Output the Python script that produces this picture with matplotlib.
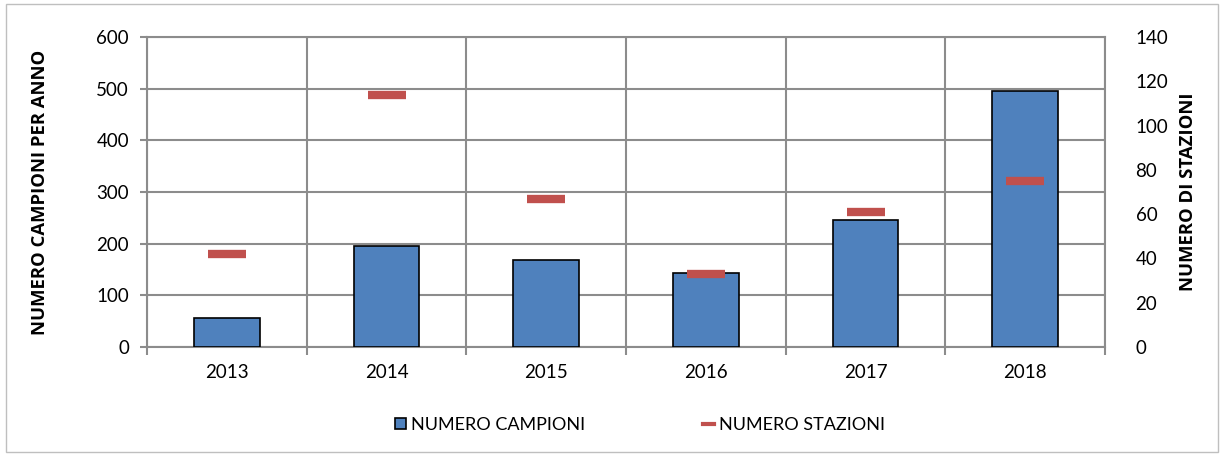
import matplotlib.pyplot as plt
from matplotlib.patches import Rectangle
from matplotlib.lines import Line2D

plt.rcParams['font.family'] = ['Lato', 'DejaVu Sans']

anni = ['2013', '2014', '2015', '2016', '2017', '2018']
campioni = [56, 195, 168, 143, 246, 495]
stazioni = [42, 114, 67, 33, 61, 75]

grid_col = '#8c8c8c'
bar_col = '#4f81bd'
red = '#c0504d'

fig = plt.figure(figsize=(12.23, 4.55), dpi=100)
ax = fig.add_axes([147 / 1223, 1 - 347 / 455, 958 / 1223, 310 / 455])

x = list(range(len(anni)))
ax.bar(x, campioni, width=0.41, color=bar_col, edgecolor='black', linewidth=1.2, zorder=3)
ax.set_xlim(-0.5, 5.5)
ax.set_ylim(0, 600)
ax.set_yticks(range(0, 601, 100))
ax.set_xticks(x)
ax.set_xticklabels(anni)
ax.set_xticks([i - 0.5 for i in range(7)], minor=True)
ax.tick_params(axis='x', which='major', length=0, pad=12, labelsize=13.5)
ax.tick_params(axis='x', which='minor', length=6, color=grid_col, width=1.5)
ax.tick_params(axis='y', length=5, color=grid_col, width=1.5, labelsize=13.5, pad=8)
ax.grid(True, which='minor', axis='x', color=grid_col, linewidth=1.5, zorder=0)
ax.grid(True, which='major', axis='y', color=grid_col, linewidth=1.5, zorder=0)
for s in ax.spines.values():
    s.set_color(grid_col)
    s.set_linewidth(1.5)
ax.set_ylabel('NUMERO CAMPIONI PER ANNO', fontsize=13.3, fontweight='bold',
              family=['Open Sans', 'DejaVu Sans'], labelpad=34)

ax2 = ax.twinx()
ax2.set_ylim(0, 140)
ax2.set_yticks(range(0, 141, 20))
ax2.plot(x, stazioni, linestyle='none', marker='_', markersize=27, markeredgewidth=6,
         color=red, zorder=4)
ax2.tick_params(axis='y', length=0, labelsize=13.5, pad=22)
for s in ax2.spines.values():
    s.set_visible(False)
ax2.set_ylabel('NUMERO DI STAZIONI', fontsize=13.3, fontweight='bold',
               family=['Open Sans', 'DejaVu Sans'], labelpad=8)

handles = [
    Rectangle((0, 0), 1, 1, facecolor=bar_col, edgecolor='black', linewidth=1.2),
    Line2D([], [], color=red, linewidth=3),
]
fig.legend(handles, ['NUMERO CAMPIONI', 'NUMERO STAZIONI'], loc='center',
           bbox_to_anchor=(640 / 1223, 1 - 425 / 455), ncol=2, frameon=False,
           fontsize=13, handlelength=0.6, handleheight=0.6, handletextpad=0.3,
           columnspacing=6.5)

fig.patches.append(Rectangle((6 / 1223, 3 / 455), 1212 / 1223, 448 / 455,
                             transform=fig.transFigure, fill=False,
                             edgecolor='#bfbfbf', linewidth=1))

fig.savefig('out.png', dpi=100)
